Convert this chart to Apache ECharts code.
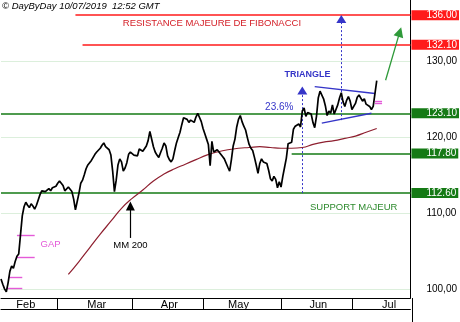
<!DOCTYPE html>
<html>
<head>
<meta charset="utf-8">
<script src="https://cdn.jsdelivr.net/npm/echarts@6/dist/echarts.min.js"></script>
<style>
  html, body { margin: 0; padding: 0; background: #fff; }
  #chart { width: 460px; height: 322px; }
</style>
</head>
<body>
<div id="chart"></div>
<script>
// trading calendar: two points per session (am / pm)
const firstDay = [2019, 1, 7];
const dayCount = 116;
const holidays = ['2019-04-19', '2019-04-22', '2019-05-01'];
const monthNames = ['Feb', 'Mar', 'Apr', 'May', 'Jun', 'Jul'];
const monthLabelAt = [14, 54, 95, 134, 179, 219];

// price (half sessions)
const price = [
  101.3, 100.6, 100.0, 99.6, 100.8, 102.3, 103.0, 102.7, 103.6, 104.3,
  104.6, 107.1, 109.6, 110.8, 111.4, 111.0, 110.7, 111.2, 110.9, 110.5,
  111.0, 111.7, 112.4, 112.9, 113.1, 112.8, 113.0, 113.2, 112.9, 113.3,
  113.2, 113.5, 113.9, 114.2, 114.3, 113.6, 112.9, 112.7, 113.4, 113.2,
  112.8, 111.8, 110.4, 111.5, 112.6, 113.9, 114.3, 115.0, 115.8, 116.3,
  116.6, 116.9, 117.3, 117.7, 118.0, 118.0, 118.5, 118.9, 119.2, 118.7,
  118.9, 118.3, 117.6, 115.5, 112.8, 114.3, 116.3, 117.1, 116.7, 115.5,
  115.9, 116.6, 117.7, 118.0, 118.0, 117.6, 117.4, 117.5, 118.4, 118.3,
  118.1, 118.0, 118.8, 119.5, 120.7, 120.6, 118.7, 118.0, 117.6, 117.3,
  117.9, 118.5, 119.2, 118.8, 117.5, 117.0, 116.7, 117.1, 118.2, 119.2,
  119.9, 120.6, 121.6, 122.5, 122.7, 122.3, 121.9, 122.2, 122.3, 121.9,
  122.6, 123.1, 123.3, 122.0, 121.1, 120.4, 119.7, 119.0, 116.2, 119.4,
  118.0, 117.9, 118.3, 118.4, 117.7, 117.4, 117.1, 116.9, 116.0, 115.5,
  117.0, 118.8, 119.7, 121.3, 122.3, 122.8, 122.0, 121.4, 120.9, 119.9,
  119.0, 118.5, 118.2, 117.3, 116.3, 115.2, 116.5, 117.1, 116.7, 116.9,
  116.5, 115.6, 114.5, 114.2, 114.8, 114.4, 113.3, 114.1, 113.4, 114.8,
  116.0, 117.2, 119.1, 119.0, 119.3, 121.0, 121.4, 121.2, 121.7, 121.3,
  123.4, 123.8, 122.7, 123.2, 123.4, 123.0, 121.9, 121.2, 122.7, 125.1,
  126.0, 126.2, 125.0, 124.1, 122.8, 123.4, 123.1, 124.2, 123.0, 123.1,
  124.2, 125.1, 125.8, 124.6, 124.0, 124.8, 125.3, 124.7, 123.6, 123.4,
  124.4, 125.2, 125.5, 125.6, 124.7, 125.0, 124.3, 124.5, 124.0, 123.6,
  124.0, 124.2, 127.4
];

// 200 period moving average [index, value]
const mm200 = [
  [38, 101.9], [44, 103.6], [50, 105.4], [56, 107.2], [62, 108.9],
  [68, 110.6], [74, 111.9], [80, 113.0], [86, 114.2], [92, 115.1],
  [98, 115.8], [104, 116.4], [110, 117.0], [116, 117.6], [122, 118.0],
  [128, 118.3], [134, 118.5], [140, 118.6], [146, 118.7], [152, 118.6],
  [158, 118.5], [164, 118.5], [170, 118.6], [176, 119.0], [182, 119.3],
  [188, 119.5], [194, 119.8], [200, 120.1], [206, 120.6], [212, 121.1]
];

const resistances = [136.00, 132.10];
const supports = [123.10, 117.80, 112.60];
const gapMarks = [107.0, 104.2, 101.5, 100.1];
const lastMarks = [124.7, 124.4];

const RED = '#ff1a1a', GREEN = '#157a15', BLUE = '#3535c8', MAGENTA = '#e45ad8', MAROON = '#8e1f2f';
const FONT = 'Liberation Sans, Arial, sans-serif';

const categories = [];
const d = new Date(Date.UTC(firstDay[0], firstDay[1], firstDay[2]));
while (categories.length < dayCount * 2) {
  const wd = d.getUTCDay();
  const iso = d.toISOString().slice(0, 10);
  if (wd !== 0 && wd !== 6 && holidays.indexOf(iso) < 0) {
    categories.push(iso + ' am', iso + ' pm');
  }
  d.setUTCDate(d.getUTCDate() + 1);
}
const monthStarts = [];
categories.forEach((c, i) => {
  if (i > 0 && c.slice(5, 7) !== categories[i - 1].slice(5, 7)) monthStarts.push(i);
});
const last = categories.length - 1;

function seg(k1, v1, k2, v2, lineStyle, label) {
  return [
    { coord: [k1, v1], symbol: 'none', lineStyle: lineStyle, label: label || { show: false } },
    { coord: [k2, v2], symbol: 'none', lineStyle: lineStyle }
  ];
}
function arrow(k1, v1, k2, v2, lineStyle, color, size) {
  return [
    { coord: [k1, v1], symbol: 'none', lineStyle: lineStyle },
    { coord: [k2, v2], symbol: 'triangle', symbolSize: size, lineStyle: lineStyle, itemStyle: { color: color } }
  ];
}
function box(text, bg) {
  return {
    show: true, position: 'end', distance: 1, formatter: text,
    color: '#fff', backgroundColor: bg, fontSize: 10, fontFamily: FONT,
    lineHeight: 9, padding: [1, 2, 0, 15]
  };
}

const redLine = { color: RED, width: 1.5, type: 'solid', opacity: 1 };
const greenLine = { color: GREEN, width: 1.5, type: 'solid' };
const blueLine = { color: BLUE, width: 1.4, type: 'solid' };
const blueDots = { color: BLUE, width: 1, type: [2, 2] };
const magLine = { color: MAGENTA, width: 1.4, type: 'solid' };

const lines = [
  seg(42, resistances[0], last, resistances[0], redLine, box('136.00', RED)),
  seg(46, resistances[1], last, resistances[1], redLine, box('132.10', RED)),
  seg(0, supports[0], last, supports[0], greenLine, box('123.10', GREEN)),
  seg(164, supports[1], last, supports[1], greenLine, box('117.80', GREEN)),
  seg(0, supports[2], last, supports[2], greenLine, box('112.60', GREEN)),
  seg(177, 126.6, 211, 125.7, blueLine),
  seg(181, 121.8, 209, 123.1, blueLine),
  seg(9, gapMarks[0], 19, gapMarks[0], magLine),
  seg(9, gapMarks[1], 19, gapMarks[1], magLine),
  seg(4, gapMarks[2], 12, gapMarks[2], magLine),
  seg(3, gapMarks[3], 12, gapMarks[3], magLine),
  seg(211, lastMarks[0], 215, lastMarks[0], magLine),
  seg(211, lastMarks[1], 215, lastMarks[1], magLine),
  arrow(170, 112.6, 170, 126.1, blueDots, BLUE, [10, 8]),
  arrow(192, 122.2, 192, 135.5, blueDots, BLUE, [10, 8]),
  arrow(73, 106.7, 73, 110.9, { color: '#000', width: 1.2, type: 'solid' }, '#000', [9, 9]),
  arrow(217, 127.45, 225, 133.8, { color: '#2f9a3a', width: 1.3, type: 'solid' }, '#2f9a3a', [10, 10])
];

function note(text, k, v, color, size, weight) {
  return {
    name: text, coord: [k, v],
    label: { color: color, fontSize: size, fontWeight: weight || 'normal', fontFamily: FONT }
  };
}
const notes = [
  note('RESISTANCE MAJEURE DE FIBONACCI', 119, 134.88, '#d42028', 9.5),
  note('TRIANGLE', 173, 128.17, BLUE, 9, 'bold'),
  note('23.6%', 157, 123.9, BLUE, 10),
  note('SUPPORT MAJEUR', 199, 110.75, '#2d8a2d', 9.5),
  note('GAP', 28, 105.9, MAGENTA, 9.5),
  note('MM 200', 73, 105.72, '#000', 9.5)
];

const chart = echarts.init(document.getElementById('chart'));
chart.setOption({
  animation: false,
  backgroundColor: '#fff',
  textStyle: { fontFamily: FONT },
  title: {
    text: '\u00a9 DayByDay 10/07/2019  12:52 GMT', left: 2, top: 1, padding: 0,
    textStyle: { fontSize: 9.5, fontStyle: 'italic', fontWeight: 'normal', color: '#000', fontFamily: FONT }
  },
  grid: { left: 1, right: 48, top: 0, bottom: 24 },
  xAxis: [{
    type: 'category', data: categories, boundaryGap: false,
    axisLine: { lineStyle: { color: '#000', width: 1 } },
    axisTick: { show: true, interval: (i) => monthStarts.indexOf(i) >= 0, length: 11, lineStyle: { color: '#000' } },
    axisLabel: {
      interval: (i) => monthLabelAt.indexOf(i) >= 0,
      formatter: (v, i) => monthNames[monthLabelAt.indexOf(i)] || '',
      fontSize: 11, margin: 1, color: '#000', fontFamily: FONT
    },
    splitLine: { show: false }
  }, {
    type: 'category', data: categories, boundaryGap: false, position: 'bottom', offset: 11,
    axisLine: { lineStyle: { color: '#000', width: 1 } },
    axisTick: { show: false }, axisLabel: { show: false }, splitLine: { show: false }
  }],
  yAxis: {
    type: 'value', position: 'right', min: 98.8, max: 138,
    axisLine: { show: true, lineStyle: { color: '#000', width: 1 } },
    axisTick: { show: false },
    axisLabel: {
      margin: 16, fontSize: 10, color: '#000', fontFamily: FONT,
      showMinLabel: false, showMaxLabel: false,
      formatter: (v) => v.toFixed(2).replace('.', ',')
    },
    splitLine: { show: true, showMinLine: false, showMaxLine: false, lineStyle: { color: '#dcefdc', width: 1 } }
  },
  graphic: [{
    type: 'line', shape: { x1: 412.5, y1: 298, x2: 412.5, y2: 322 },
    style: { stroke: '#000', lineWidth: 1 }, silent: true
  }],
  series: [{
    name: 'MM 200', type: 'line', data: mm200, smooth: true, showSymbol: false,
    lineStyle: { color: MAROON, width: 1.2 }, z: 3
  }, {
    name: 'price', type: 'line', data: price, showSymbol: false,
    lineStyle: { color: '#000', width: 1.7 }, z: 4,
    markLine: { silent: true, symbol: 'none', data: lines, label: { show: false }, z: 2 },
    markPoint: {
      silent: true, symbol: 'rect', symbolSize: 1,
      itemStyle: { color: 'rgba(0,0,0,0)' },
      label: { show: true, position: 'inside', formatter: '{b}' },
      data: notes
    }
  }]
});
</script>
</body>
</html>
